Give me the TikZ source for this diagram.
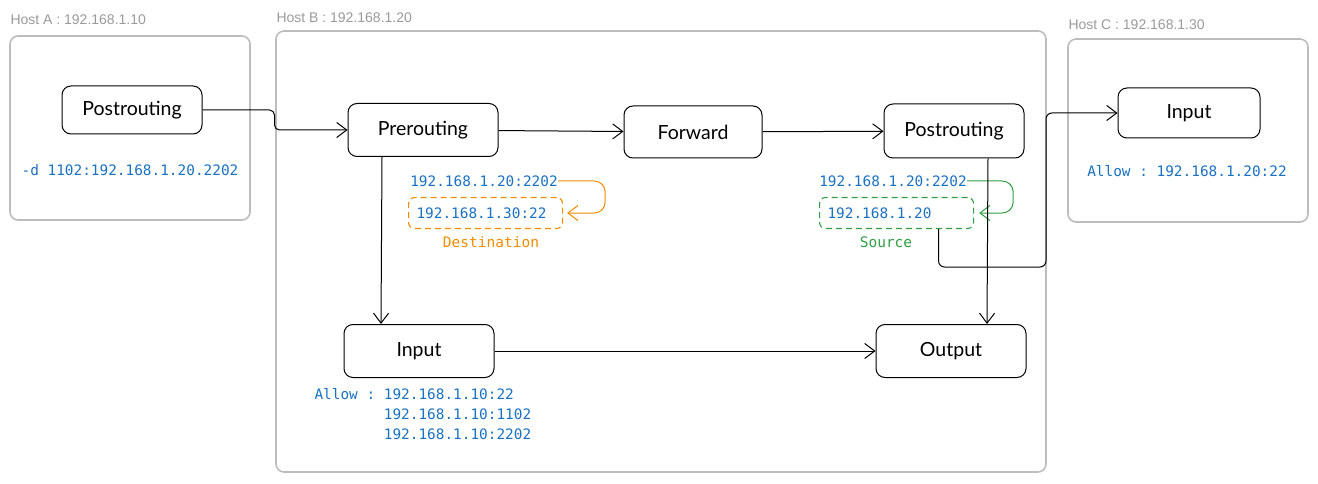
\documentclass[tikz,border=0pt]{standalone}
\usepackage{fontspec}
\setmainfont{Lato}
\setsansfont{Liberation Sans}
\setmonofont{DejaVu Sans Mono}
\usetikzlibrary{arrows.meta}

\definecolor{boxgray}{HTML}{BDBDBD}
\definecolor{hostgray}{HTML}{9A9A9A}
\definecolor{ruleblue}{HTML}{1971C2}
\definecolor{natorange}{HTML}{F08C00}
\definecolor{natgreen}{HTML}{2F9E44}

\tikzset{
  host/.style={draw=boxgray, line width=1.6pt, rounded corners=8pt},
  hostlabel/.style={anchor=west, text=hostgray, inner sep=0pt,
    font=\sffamily\fontsize{14}{16}\selectfont},
  chain/.style={draw, line width=1pt, rounded corners=9pt,
    minimum width=140pt, minimum height=50pt, font=\fontsize{19.5}{22}\selectfont},
  rule/.style={text=ruleblue, inner sep=0pt,
    font=\ttfamily\fontsize{14.4}{20}\selectfont},
  natbox/.style={dash pattern=on 6pt off 4pt, line width=1.1pt, rounded corners=6pt,
    text width=138pt, align=left, inner xsep=8pt, minimum height=31pt, anchor=west,
    text=ruleblue, font=\ttfamily\fontsize{14.4}{20}\selectfont},
  natlabel/.style={inner sep=0pt, font=\ttfamily\fontsize{14.5}{16}\selectfont}
}

\begin{document}
\begin{tikzpicture}[x=1pt, y=-1pt, line width=1pt,
  >={Straight Barb[length=10pt,width=15pt]}]
  \useasboundingbox (0,0) rectangle (1318,484);

  % hosts
  \draw[host] (10,36) rectangle (250,220);
  \draw[host] (276,31) rectangle (1046,472);
  \draw[host] (1068,39) rectangle (1308,222);
  \node[hostlabel] (labA) at (10,20) {Host A : 192.168.1.10};
  \node[hostlabel] (labB) at (276,18) {Host B : 192.168.1.20};
  \node[hostlabel] (labC) at (1068,25) {Host C : 192.168.1.30};

  % chains
  \node[chain, minimum width=140pt, minimum height=48pt] (postA) at (132,110) {Postrouting};
  \node[chain, minimum width=150pt, minimum height=53pt] (pre)   at (423,130) {Prerouting};
  \node[chain, minimum width=138pt, minimum height=52pt] (fwd)   at (693,132) {Forward};
  \node[chain, minimum width=140pt, minimum height=54pt] (postB) at (954,131) {Postrouting};
  \node[chain, minimum width=142pt, minimum height=50pt] (inC)   at (1189,113) {Input};
  \node[chain, minimum width=150pt, minimum height=53pt] (inB)   at (419,351) {Input};
  \node[chain, minimum width=150pt, minimum height=53pt] (out)   at (951,351) {Output};

  % rules
  \node[rule] (ruleA) at (130,170) {-d 1102:192.168.1.20.2202};
  \node[rule] (ruleC) at (1187,171) {Allow : 192.168.1.20:22};
  \node[rule, anchor=north west, align=left] (ruleB) at (314,388)
    {Allow : 192.168.1.10:22\\
     \hphantom{Allow : }192.168.1.10:1102\\
     \hphantom{Allow : }192.168.1.10:2202};

  % destination nat
  \node[rule] (dold) at (484,181) {192.168.1.20:2202};
  \node[natbox, draw=natorange] (dbox) at (408,213) {192.168.1.30:22};
  \node[natlabel, text=natorange] (dlab) at (491,242) {Destination};
  \draw[->, natorange, rounded corners=11pt] (dold.east) -- ++(47,0) |- ([xshift=4pt]dbox.east);

  % source nat
  \node[rule] (sold) at (893,181) {192.168.1.20:2202};
  \node[natbox, draw=natgreen] (sbox) at (819,213) {192.168.1.20};
  \node[natlabel, text=natgreen] (slab) at (886,242) {Source};
  \draw[->, natgreen, rounded corners=11pt] (sold.east) -- ++(46,0) |- ([xshift=5pt]sbox.east);

  % flow
  \draw[->, rounded corners=5pt] (postA.east) -- ++(72,0) |- (pre.west);
  \draw[->] (pre) -- (fwd);
  \draw[->] (fwd) -- (postB);
  \draw[->] ([xshift=-41pt]pre.south) -- ([xshift=-38pt]inB.north);
  \draw[->] (inB) -- (out);
  \draw[->] ([xshift=34pt]postB.south) -- ([xshift=36pt]out.north);
  \coordinate (edgeB) at (1046,267);
  \draw[->, rounded corners=6pt] ([xshift=42pt]sbox.south) |- (edgeB) |- (inC.west);
\end{tikzpicture}
\end{document}
